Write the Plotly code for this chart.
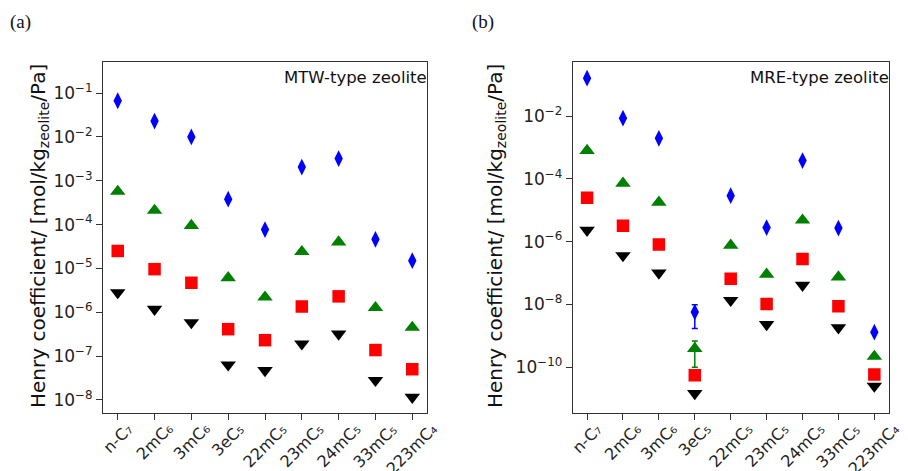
import plotly.graph_objects as go
import numpy as np

categories = ["n-C\u2087", "2mC\u2086", "3mC\u2086", "3eC\u2085", "22mC\u2085",
              "23mC\u2085", "24mC\u2085", "33mC\u2085", "223mC\u2084"]

# Panel (a) MTW-type zeolite
mtw_blue = [6.7e-2, 2.3e-2, 1.0e-2, 3.8e-4, 7.7e-5, 2.05e-3, 3.2e-3, 4.6e-5, 1.5e-5]
mtw_green = [5.7e-4, 2.1e-4, 9.5e-5, 6.1e-6, 2.2e-6, 2.4e-5, 4.0e-5, 1.27e-6, 4.5e-7]
mtw_red = [2.5e-5, 9.6e-6, 4.7e-6, 4.1e-7, 2.3e-7, 1.35e-6, 2.3e-6, 1.37e-7, 5.0e-8]
mtw_black = [2.8e-6, 1.17e-6, 5.8e-7, 6.3e-8, 4.7e-8, 1.9e-7, 3.2e-7, 2.8e-8, 1.15e-8]

# Panel (b) MRE-type zeolite
mre_blue = [1.6e-1, 8.5e-3, 1.94e-3, 5.7e-9, 2.9e-5, 2.8e-6, 3.8e-4, 2.7e-6, 1.3e-9]
mre_blue_err = [0, 0, 0, 4.0e-9, 0, 0, 0, 0, 0]
mre_green = [7.9e-4, 7.2e-5, 1.78e-5, 3.9e-10, 7.6e-7, 9.1e-8, 4.8e-6, 7.4e-8, 2.2e-10]
mre_green_err = [0, 0, 0, 2.9e-10, 0, 0, 0, 0, 0]
mre_red = [2.5e-5, 3.2e-6, 8.1e-7, 5.5e-11, 6.6e-8, 1.02e-8, 2.8e-7, 8.7e-9, 5.8e-11]
mre_black = [2.3e-6, 3.6e-7, 1.0e-7, 1.45e-11, 1.35e-8, 2.3e-9, 4.1e-8, 1.8e-9, 2.5e-11]

a_ticks = [1e-1, 1e-2, 1e-3, 1e-4, 1e-5, 1e-6, 1e-7, 1e-8]
a_ticktext = ["10<sup>\u22121</sup>", "10<sup>\u22122</sup>", "10<sup>\u22123</sup>", "10<sup>\u22124</sup>",
              "10<sup>\u22125</sup>", "10<sup>\u22126</sup>", "10<sup>\u22127</sup>", "10<sup>\u22128</sup>"]
b_ticks = [1e-2, 1e-4, 1e-6, 1e-8, 1e-10]
b_ticktext = ["10<sup>\u22122</sup>", "10<sup>\u22124</sup>", "10<sup>\u22126</sup>", "10<sup>\u22128</sup>",
              "10<sup>\u221210</sup>"]

x = list(range(len(categories)))
FONT = "DejaVu Sans"

fig = go.Figure()

def add_series(xa, ya, vals, color, symbol, size, err=None):
    kw = {}
    if err is not None:
        kw["error_y"] = dict(type="data", array=err, visible=True, color=color,
                             thickness=1.5, width=3)
    fig.add_trace(go.Scatter(x=x, y=vals, mode="markers", xaxis=xa, yaxis=ya,
                             marker=dict(color=color, symbol=symbol, size=size,
                                         line=dict(width=0)),
                             showlegend=False, **kw))

for xa, ya, blue, green, red, black, be, ge in [
        ("x", "y", mtw_blue, mtw_green, mtw_red, mtw_black, None, None),
        ("x2", "y2", mre_blue, mre_green, mre_red, mre_black, mre_blue_err, mre_green_err)]:
    add_series(xa, ya, blue, "#0000ff", "diamond-tall", 12, be)
    add_series(xa, ya, green, "#008000", "triangle-up", 13.5, ge)
    add_series(xa, ya, red, "#ff0000", "square", 12.5)
    add_series(xa, ya, black, "#000000", "triangle-down", 13.5)

axis_common = dict(showgrid=False, zeroline=False, showline=True, mirror=True,
                   linecolor="#333333", linewidth=1, ticks="outside", ticklen=6,
                   tickwidth=1, tickcolor="#333333", automargin=False,
                   tickfont=dict(family=FONT, size=17, color="#222222"))

ytop = 1 - 62 / 471
ybot = 1 - 413 / 471

fig.update_layout(
    width=908, height=471,
    margin=dict(l=0, r=0, t=0, b=0),
    paper_bgcolor="white", plot_bgcolor="white",
    xaxis=dict(domain=[103 / 908, 427 / 908], range=[-0.4, 8.4], tickvals=x, showticklabels=False,
               anchor="y", **axis_common),
    yaxis=dict(domain=[ybot, ytop], type="log", range=[-8.3, -0.29], tickvals=a_ticks,
               ticktext=a_ticktext, anchor="x", **axis_common),
    xaxis2=dict(domain=[572.7 / 908, 888.7 / 908], range=[-0.4, 8.4], tickvals=x, showticklabels=False,
                anchor="y2", **axis_common),
    yaxis2=dict(domain=[ybot, ytop], type="log", range=[-11.46, -0.28], tickvals=b_ticks,
                ticktext=b_ticktext, anchor="x2", **axis_common),
)

# rotated category labels, centred under each tick (as matplotlib does)
for xr in ["x", "x2"]:
    for i, lab in enumerate(categories):
        fig.add_annotation(text=lab, x=x[i], xref=xr, y=1 - 418 / 471, yref="paper",
                           textangle=-45, showarrow=False, xanchor="center", yanchor="top",
                           borderpad=0,
                           font=dict(family=FONT, size=16, color="#222222"))

ytitle = "Henry coefficient/ [mol/kg<sub>zeolite</sub>/Pa]"
for xt in [39, 496]:
    fig.add_annotation(text=ytitle, xref="paper", yref="paper", x=xt / 908, y=1 - 236 / 471,
                       textangle=-90, showarrow=False, xanchor="center", yanchor="middle",
                       font=dict(family=FONT, size=20, color="#111111"))

fig.add_annotation(text="MTW-type zeolite", xref="paper", yref="paper", x=427 / 908, y=1 - 66 / 471,
                   showarrow=False, xanchor="right", yanchor="top", xshift=2,
                   font=dict(family=FONT, size=16.5, color="#111111"))
fig.add_annotation(text="MRE-type zeolite", xref="paper", yref="paper", x=888.7 / 908, y=1 - 66 / 471,
                   showarrow=False, xanchor="right", yanchor="top", xshift=2,
                   font=dict(family=FONT, size=16.5, color="#111111"))

fig.add_annotation(text="(a)", xref="paper", yref="paper", x=8 / 908, y=1 - 22.5 / 471,
                   showarrow=False, xanchor="left", yanchor="middle",
                   font=dict(family="Liberation Serif", size=19, color="#111111"))
fig.add_annotation(text="(b)", xref="paper", yref="paper", x=470 / 908, y=1 - 22.5 / 471,
                   showarrow=False, xanchor="left", yanchor="middle",
                   font=dict(family="Liberation Serif", size=19, color="#111111"))

fig.write_html("out.html")
